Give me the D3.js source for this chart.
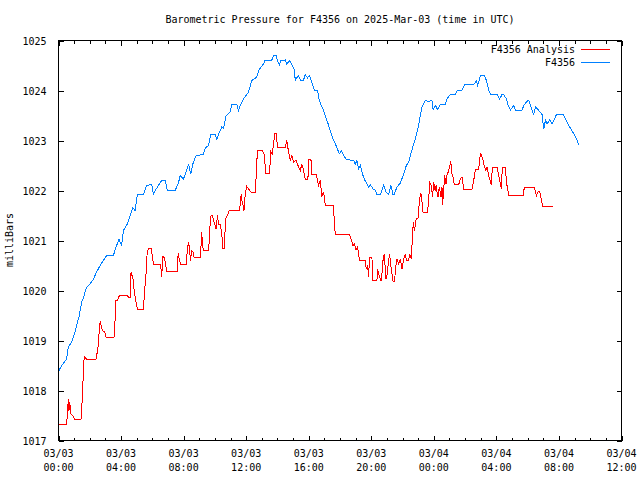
<!DOCTYPE html>
<html><head><meta charset="utf-8">
<script src="https://cdn.jsdelivr.net/npm/d3@7"></script>
<style>
html,body{margin:0;padding:0;background:#fff;}
text{font-family:"DejaVu Sans Mono","Liberation Mono",monospace;font-size:10px;fill:#000;}
</style></head>
<body><svg id="c" width="640" height="480"></svg>
<script>
// hours since 2025-03-03 00:00 UTC
const stationHours = [0.03,0.20,0.52,0.63,0.84,1.06,1.16,1.33,1.48,1.59,1.76,1.91,2.12,2.23,2.44,2.66,2.87,3.08,3.51,3.68,3.87,4.04,4.15,4.40,4.58,4.75,4.90,5.04,5.43,5.64,5.96,6.07,6.18,6.39,6.60,6.82,6.96,7.46,7.67,7.78,7.99,8.20,8.31,8.46,8.59,8.80,9.27,9.38,9.59,9.74,10.02,10.12,10.23,10.44,10.55,10.72,10.98,11.08,11.40,11.51,11.62,11.83,12.15,12.36,12.68,12.85,13.11,13.22,13.64,13.75,13.92,14.00,14.13,14.22,14.50,14.60,14.77,14.92,15.07,15.14,15.35,15.46,15.67,15.78,15.92,16.05,16.14,16.27,16.35,16.56,16.67,16.84,16.95,17.06,17.20,17.38,17.55,17.70,17.84,17.95,18.08,18.23,18.40,18.66,18.87,18.98,19.08,19.19,19.30,19.44,19.55,19.72,19.83,19.94,20.11,20.26,20.36,20.58,20.68,20.79,20.94,21.11,21.26,21.39,21.47,21.64,21.86,22.07,22.24,22.39,22.59,22.71,22.82,22.92,23.03,23.09,23.18,23.24,23.46,23.67,23.88,23.95,24.10,24.24,24.42,24.74,24.84,25.06,25.38,25.52,25.80,25.95,26.55,26.72,26.80,26.98,27.23,27.36,27.51,27.62,28.04,28.21,28.36,28.47,28.64,28.72,28.90,29.11,29.22,29.64,29.75,29.92,30.07,30.18,30.28,30.39,30.50,30.71,30.92,31.03,31.14,31.24,31.41,31.56,31.71,31.84,32.27,32.42,32.63,32.84,33.06,33.27];
const stationPressure = [1018.40,1018.50,1018.63,1018.87,1018.97,1019.17,1019.30,1019.50,1019.77,1019.84,1020.04,1020.10,1020.17,1020.23,1020.37,1020.50,1020.60,1020.70,1020.70,1020.87,1021.02,1020.90,1021.20,1021.33,1021.50,1021.65,1021.60,1021.92,1021.92,1022.10,1022.12,1021.93,1022.00,1022.10,1022.20,1022.20,1022.00,1022.00,1022.15,1022.30,1022.23,1022.40,1022.53,1022.33,1022.53,1022.70,1022.72,1022.85,1022.90,1023.12,1023.12,1023.02,1023.12,1023.27,1023.25,1023.50,1023.57,1023.72,1023.73,1023.60,1023.70,1023.83,1023.97,1024.20,1024.27,1024.43,1024.53,1024.61,1024.61,1024.70,1024.70,1024.60,1024.52,1024.60,1024.61,1024.53,1024.60,1024.52,1024.43,1024.21,1024.30,1024.21,1024.21,1024.32,1024.25,1024.30,1024.21,1024.10,1024.01,1024.01,1023.81,1023.67,1023.60,1023.50,1023.37,1023.20,1023.03,1022.93,1022.83,1022.73,1022.80,1022.70,1022.63,1022.61,1022.61,1022.52,1022.61,1022.43,1022.50,1022.33,1022.23,1022.13,1022.07,1022.12,1022.03,1022.01,1021.92,1021.92,1022.00,1022.10,1021.97,1021.92,1022.10,1021.92,1021.92,1022.07,1022.15,1022.33,1022.50,1022.57,1022.80,1022.93,1023.03,1023.17,1023.30,1023.43,1023.57,1023.67,1023.80,1023.78,1023.80,1023.62,1023.70,1023.62,1023.72,1023.72,1023.83,1023.92,1023.92,1024.01,1024.01,1024.11,1024.12,1024.19,1024.10,1024.30,1024.30,1024.20,1024.01,1023.92,1023.92,1023.83,1023.92,1023.92,1023.83,1023.73,1023.61,1023.70,1023.61,1023.61,1023.70,1023.77,1023.81,1023.70,1023.60,1023.52,1023.67,1023.60,1023.52,1023.23,1023.41,1023.33,1023.41,1023.33,1023.43,1023.52,1023.52,1023.43,1023.30,1023.19,1023.07,1022.92];

const analysisHours = [0.03,0.52,0.59,0.63,0.67,0.72,0.78,0.91,1.01,1.44,1.48,1.55,1.59,1.65,1.80,2.40,2.48,2.57,2.61,2.68,2.74,2.83,2.96,3.04,3.55,3.62,3.66,3.79,3.89,4.40,4.47,4.58,4.64,4.70,4.77,4.83,4.92,5.04,5.43,5.49,5.56,5.62,5.66,5.75,5.92,6.00,6.07,6.50,6.56,6.60,6.67,6.77,6.86,6.92,7.60,7.65,7.73,7.82,8.16,8.24,8.31,8.37,8.44,8.52,8.59,8.67,9.06,9.12,9.16,9.20,9.27,9.59,9.65,9.70,9.76,9.84,9.91,10.02,10.08,10.16,10.23,10.34,10.44,10.51,10.61,10.68,10.80,10.91,11.57,11.62,11.68,11.72,11.76,11.86,11.94,12.04,12.21,12.30,12.58,12.64,12.72,13.00,13.15,13.26,13.49,13.58,13.66,13.75,13.84,13.92,14.00,14.50,14.60,14.71,14.82,14.92,15.03,15.20,15.35,15.46,15.56,15.63,15.78,15.95,15.99,16.14,16.20,16.48,16.56,16.63,16.74,16.84,16.95,17.06,17.59,17.63,17.70,18.61,18.72,18.83,18.93,19.02,19.12,19.25,19.62,19.68,19.76,19.83,19.89,20.04,20.11,20.36,20.40,20.53,20.62,20.68,20.75,20.83,20.94,21.00,21.11,21.17,21.26,21.39,21.49,21.56,21.64,21.75,21.86,21.96,22.07,22.18,22.24,22.39,22.45,22.56,22.62,22.69,22.75,22.82,22.88,22.99,23.07,23.14,23.18,23.24,23.31,23.60,23.67,23.73,23.84,23.92,23.99,24.08,24.14,24.20,24.27,24.35,24.46,24.52,24.56,24.63,24.69,24.78,24.84,24.95,25.01,25.08,25.16,25.23,25.31,25.59,25.70,25.80,25.91,26.44,26.55,26.66,26.87,26.98,27.08,27.15,27.23,27.32,27.40,27.51,27.62,27.68,27.74,28.04,28.15,28.26,28.32,28.38,28.58,28.64,28.79,29.71,29.79,30.43,30.50,30.56,30.67,30.77,30.86,30.96,31.63];
const analysisPressure = [1017.33,1017.33,1017.63,1017.83,1017.60,1017.77,1017.53,1017.50,1017.43,1017.43,1017.63,1018.00,1018.43,1018.68,1018.63,1018.63,1018.77,1018.97,1019.27,1019.39,1019.27,1019.19,1019.17,1019.07,1019.07,1019.43,1019.81,1019.81,1019.90,1019.90,1019.87,1019.87,1020.37,1020.30,1020.23,1020.03,1019.83,1019.63,1019.63,1019.90,1020.20,1020.43,1020.70,1020.85,1020.85,1020.70,1020.53,1020.53,1020.43,1020.28,1020.68,1020.65,1020.50,1020.38,1020.38,1020.75,1020.61,1020.53,1020.53,1020.80,1020.97,1020.87,1020.60,1020.80,1020.78,1020.67,1020.67,1020.93,1021.17,1020.93,1020.81,1020.81,1021.01,1021.37,1021.50,1021.50,1021.40,1021.30,1021.23,1021.50,1021.33,1021.33,1021.13,1020.85,1020.85,1021.43,1021.50,1021.60,1021.60,1021.73,1021.93,1021.80,1021.77,1021.60,1021.93,1022.08,1022.01,1021.97,1021.97,1022.28,1022.81,1022.81,1022.73,1022.35,1022.35,1022.77,1022.72,1022.93,1023.15,1023.15,1022.87,1022.87,1023.00,1022.77,1022.61,1022.70,1022.57,1022.60,1022.47,1022.40,1022.53,1022.45,1022.23,1022.23,1022.63,1022.63,1022.33,1022.33,1022.20,1022.10,1022.20,1021.88,1021.97,1021.71,1021.71,1021.39,1021.12,1021.12,1021.01,1020.90,1020.93,1020.81,1020.87,1020.60,1020.60,1020.43,1020.50,1020.28,1020.67,1020.67,1020.20,1020.20,1020.43,1020.27,1020.19,1020.32,1020.60,1020.73,1020.23,1020.30,1020.60,1020.73,1020.47,1020.19,1020.19,1020.47,1020.63,1020.53,1020.63,1020.43,1020.63,1020.73,1020.60,1020.60,1020.73,1020.63,1021.01,1021.37,1021.20,1021.30,1021.45,1021.45,1021.77,1021.93,1021.92,1021.79,1021.57,1021.57,1021.80,1022.17,1022.10,1021.87,1022.17,1022.00,1022.10,1021.97,1021.87,1022.07,1021.87,1022.07,1021.72,1022.00,1022.30,1022.13,1022.30,1022.40,1022.47,1022.59,1022.33,1022.27,1022.12,1022.12,1022.23,1022.27,1022.03,1022.03,1022.20,1022.43,1022.43,1022.75,1022.67,1022.60,1022.48,1022.40,1022.47,1022.30,1022.17,1022.12,1022.47,1022.47,1022.30,1022.13,1022.03,1022.47,1022.47,1022.17,1021.90,1021.90,1022.07,1022.07,1021.97,1021.90,1021.98,1021.98,1021.83,1021.68,1021.68];

const xTickHours = [0,4,8,12,16,20,24,28,32,36];
const xTickDates = ["03/03","03/03","03/03","03/03","03/03","03/03","03/04","03/04","03/04","03/04"];
const xTickTimes = ["00:00","04:00","08:00","12:00","16:00","20:00","00:00","04:00","08:00","12:00"];
const yTicks = [1017,1018,1019,1020,1021,1022,1023,1024,1025];
const seriesNames = ["F4356 Analysis","F4356"];
const seriesColors = ["#ff0000","#0080ff"];

const svg = d3.select("#c");
const L=58.5, R=621.5, T=40.5, B=440.5;
const x = d3.scaleLinear().domain([0,36]).range([L,R]);
const y = d3.scaleLinear().domain([1017,1025]).range([B,T]);

svg.append("text").attr("x",340).attr("y",23).attr("text-anchor","middle")
  .text("Barometric Pressure for F4356 on 2025-Mar-03 (time in UTC)");
svg.append("text").attr("transform","translate(13,240) rotate(-90)").attr("text-anchor","middle")
  .text("milliBars");

const g = svg.append("g").attr("shape-rendering","crispEdges");
// y ticks
const yl = d3.axisLeft(y).tickValues(yTicks).tickSize(-5).tickPadding(12).tickFormat(d3.format("d"));
const ya = g.append("g").attr("transform",`translate(${L},0)`).call(yl);
const yr = g.append("g").attr("transform",`translate(${R},0)`).call(d3.axisRight(y).tickValues(yTicks).tickSize(-5).tickFormat(""));
// x ticks
const minor = d3.range(0,37,1);
const xb = g.append("g").attr("transform",`translate(0,${B})`).call(d3.axisBottom(x).tickValues(minor.filter(h=>h%4)).tickSize(-3).tickFormat(""));
const xbM = g.append("g").attr("transform",`translate(0,${B})`).call(d3.axisBottom(x).tickValues(xTickHours).tickSize(-5).tickFormat(""));
const xt = g.append("g").attr("transform",`translate(0,${T})`).call(d3.axisTop(x).tickValues(minor.filter(h=>h%4)).tickSize(-3).tickFormat(""));
const xtM = g.append("g").attr("transform",`translate(0,${T})`).call(d3.axisTop(x).tickValues(xTickHours).tickSize(-5).tickFormat(""));
g.selectAll(".domain").remove();
g.selectAll(".tick line").attr("stroke","#000");
ya.selectAll("text").attr("font-family",null).attr("font-size",null).style("fill","#000").attr("dy","0.35em");
g.append("rect").attr("x",L).attr("y",T).attr("width",R-L).attr("height",B-T)
  .attr("fill","none").attr("stroke","#000");

// x labels
const xl = svg.append("g");
xTickHours.forEach((h,i)=>{
  xl.append("text").attr("x",x(h)).attr("y",457).attr("text-anchor","middle").text(xTickDates[i]);
  xl.append("text").attr("x",x(h)).attr("y",471).attr("text-anchor","middle").text(xTickTimes[i]);
});

const line = d3.line().x(d=>x(d[0])).y(d=>y(d[1]));
const redData = analysisHours.map((h,i)=>[h,analysisPressure[i]]);
const blueData = stationHours.map((h,i)=>[h,stationPressure[i]]);
svg.append("path").datum(redData).attr("d",line).attr("fill","none").attr("stroke",seriesColors[0]).attr("stroke-width",1).attr("shape-rendering","crispEdges");
svg.append("path").datum(blueData).attr("d",line).attr("fill","none").attr("stroke",seriesColors[1]).attr("stroke-width",1).attr("shape-rendering","crispEdges");

// legend
seriesNames.forEach((n,i)=>{
  const ly = 49.5 + i*13;
  svg.append("text").attr("x",575).attr("y",ly+3.5).attr("text-anchor","end").text(n);
  svg.append("line").attr("x1",581).attr("x2",610).attr("y1",ly).attr("y2",ly)
    .attr("stroke",seriesColors[i]).attr("shape-rendering","crispEdges");
});
</script></body></html>
